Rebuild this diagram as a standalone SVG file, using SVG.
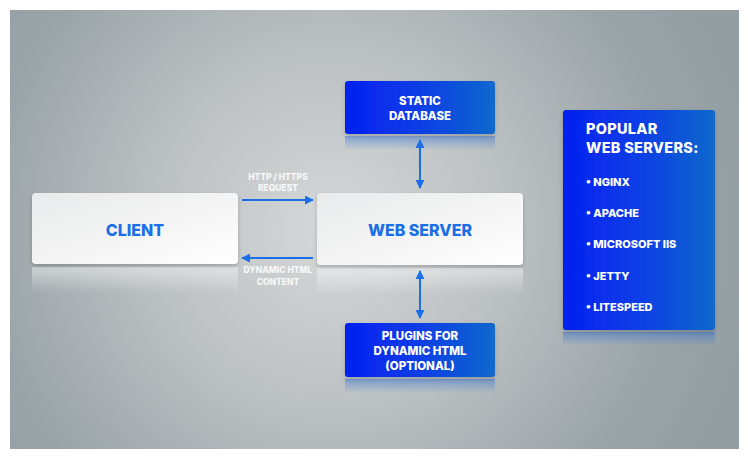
<svg xmlns="http://www.w3.org/2000/svg" width="748" height="458" viewBox="0 0 748 458">
<defs>
<radialGradient id="bg" cx="330" cy="230" r="430" gradientUnits="userSpaceOnUse">
<stop offset="0" stop-color="#d6d8d9"/>
<stop offset="0.45" stop-color="#b9bec0"/>
<stop offset="0.8" stop-color="#9aa4a8"/>
<stop offset="1" stop-color="#939ea3"/>
</radialGradient>
<linearGradient id="white" x1="0" y1="0" x2="1" y2="1">
<stop offset="0" stop-color="#e9eaeb"/>
<stop offset="0.6" stop-color="#f6f6f6"/>
<stop offset="1" stop-color="#ffffff"/>
</linearGradient>
<linearGradient id="blue" x1="0" y1="0" x2="1" y2="0">
<stop offset="0" stop-color="#0520f0"/>
<stop offset="0.5" stop-color="#0a3ee6"/>
<stop offset="1" stop-color="#1268cc"/>
</linearGradient>
<linearGradient id="refl" x1="0" y1="0" x2="0" y2="1">
<stop offset="0" stop-color="#ffffff" stop-opacity="0.45"/>
<stop offset="1" stop-color="#ffffff" stop-opacity="0"/>
</linearGradient>
<linearGradient id="reflb" x1="0" y1="0" x2="0" y2="1">
<stop offset="0" stop-color="#2a6fd8" stop-opacity="0.45"/>
<stop offset="1" stop-color="#2a6fd8" stop-opacity="0"/>
</linearGradient>
<filter id="sh" x="-10%" y="-10%" width="120%" height="130%">
<feDropShadow dx="0" dy="2" stdDeviation="2" flood-color="#000" flood-opacity="0.2"/>
</filter>
<marker id="ah" viewBox="0 0 10 10" refX="9" refY="5" markerWidth="4.5" markerHeight="4.5" orient="auto-start-reverse">
<path d="M0,0 L10,5 L0,10 z" fill="#1a6fe6"/>
</marker>
</defs>
<style>
.t{font-family:Inter,"Open Sans","Liberation Sans",sans-serif;font-weight:800}
.w{fill:#ffffff}
.b{fill:#1a6fe6}
.lbl{font-family:Inter,"Open Sans","Liberation Sans",sans-serif;font-weight:800;font-size:8.5px;fill:#f6f8fa;text-anchor:middle}
.c{stroke:#1a6fe6;stroke-width:2;fill:none}
</style>
<rect x="0" y="0" width="748" height="458" fill="#ffffff"/>
<rect x="10" y="10" width="729" height="439" fill="url(#bg)"/>

<g id="client">
<rect x="32" y="267" width="206" height="26" fill="url(#refl)"/>
<rect x="32" y="193" width="206" height="71" rx="4" fill="url(#white)" filter="url(#sh)"/>
<text class="t b" x="135" y="236" font-size="16" text-anchor="middle">CLIENT</text>
</g>

<g id="webserver">
<rect x="317" y="268" width="206" height="26" fill="url(#refl)"/>
<rect x="317" y="193" width="206" height="72" rx="4" fill="url(#white)" filter="url(#sh)"/>
<text class="t b" x="420" y="236" font-size="16" text-anchor="middle">WEB SERVER</text>
</g>

<g id="staticdb">
<rect x="345" y="136" width="150" height="14" fill="url(#reflb)"/>
<rect x="345" y="81" width="150" height="53" rx="3" fill="url(#blue)" filter="url(#sh)"/>
<text class="t w" x="420" y="105" font-size="11.5" text-anchor="middle">STATIC</text>
<text class="t w" x="420" y="120" font-size="11.5" text-anchor="middle">DATABASE</text>
</g>

<g id="plugins">
<rect x="345" y="379" width="150" height="14" fill="url(#reflb)"/>
<rect x="345" y="323" width="150" height="54" rx="3" fill="url(#blue)" filter="url(#sh)"/>
<text class="t w" x="420" y="340" font-size="11.5" text-anchor="middle">PLUGINS FOR</text>
<text class="t w" x="420" y="355" font-size="11.5" text-anchor="middle">DYNAMIC HTML</text>
<text class="t w" x="420" y="370" font-size="11.5" text-anchor="middle">(OPTIONAL)</text>
</g>

<g id="popular">
<rect x="563" y="332" width="152" height="14" fill="url(#reflb)"/>
<rect x="563" y="110" width="152" height="220" rx="3" fill="url(#blue)" filter="url(#sh)"/>
<text class="t w" x="586" y="134" font-size="14.5" letter-spacing="0.3">POPULAR</text>
<text class="t w" x="586" y="153" font-size="14.5" letter-spacing="0.3">WEB SERVERS:</text>
<text class="t w" x="586" y="186" font-size="11">• NGINX</text>
<text class="t w" x="586" y="217" font-size="11">• APACHE</text>
<text class="t w" x="586" y="248" font-size="11">• MICROSOFT IIS</text>
<text class="t w" x="586" y="280" font-size="11">• JETTY</text>
<text class="t w" x="586" y="311" font-size="11">• LITESPEED</text>
</g>

<g id="connectors">
<line class="c" x1="242" y1="200" x2="313" y2="200" marker-end="url(#ah)"/>
<line class="c" x1="313" y1="258" x2="242" y2="258" marker-end="url(#ah)"/>
<line class="c" x1="420" y1="140" x2="420" y2="188" marker-start="url(#ah)" marker-end="url(#ah)"/>
<line class="c" x1="420" y1="271" x2="420" y2="318" marker-start="url(#ah)" marker-end="url(#ah)"/>
<text class="lbl" x="278" y="180">HTTP / HTTPS</text>
<text class="lbl" x="278" y="191">REQUEST</text>
<text class="lbl" x="278" y="273">DYNAMIC HTML</text>
<text class="lbl" x="278" y="285">CONTENT</text>
</g>
</svg>
